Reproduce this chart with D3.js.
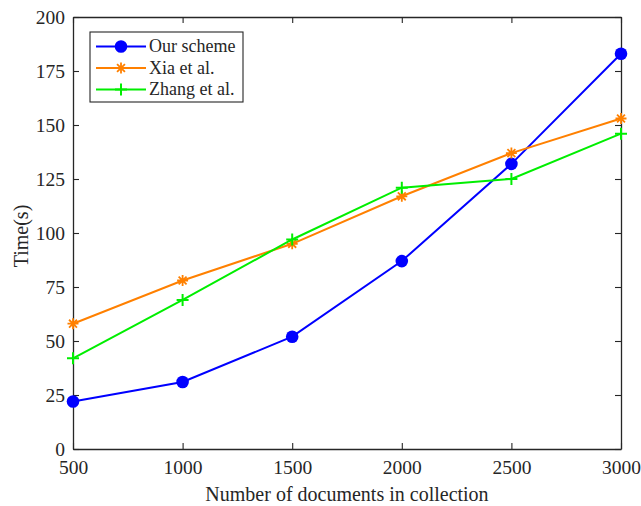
<!DOCTYPE html>
<html>
<head>
<meta charset="utf-8">
<script src="https://cdn.jsdelivr.net/npm/d3@7"></script>
<style>
  html, body { margin: 0; padding: 0; background: #fff; }
  svg { display: block; }
  text { font-family: "Liberation Serif", "Times New Roman", serif; fill: #262626; }
</style>
</head>
<body>
<svg id="chart" width="641" height="506"></svg>
<script>
// Document counts on the x axis
const docCounts = [500, 1000, 1500, 2000, 2500, 3000];
// Running time (s) for each scheme
const ourScheme = [22, 31, 52, 87, 132, 183];
const xiaEtAl   = [58, 78, 95, 117, 137, 153];
const zhangEtAl = [42, 69, 97, 121, 125, 146];
const seriesNames = ["Our scheme", "Xia et al.", "Zhang et al."];
const xTicks = [500, 1000, 1500, 2000, 2500, 3000];
const yTicks = [0, 25, 50, 75, 100, 125, 150, 175, 200];

const series = [
  { name: seriesNames[0], values: ourScheme, color: "#0000ff", marker: "circle" },
  { name: seriesNames[1], values: xiaEtAl,   color: "#ff8000", marker: "asterisk" },
  { name: seriesNames[2], values: zhangEtAl, color: "#00ee00", marker: "plus" }
];

const svg = d3.select("#chart");
const m = { left: 73, right: 20, top: 17, bottom: 57 };
const W = 641, H = 506;
const x = d3.scaleLinear().domain([500, 3000]).range([m.left, W - m.right]);
const y = d3.scaleLinear().domain([0, 200]).range([H - m.bottom, m.top]);
const axisColor = "#262626";
const tickLen = 6;
const fmt = d3.format("d");

// Axes with inward ticks, plus mirrored ticks on top and right
const axBottom = svg.append("g").attr("transform", `translate(0,${y(0)})`)
  .call(d3.axisBottom(x).tickValues(xTicks).tickFormat(fmt).tickSizeInner(-tickLen).tickSizeOuter(0).tickPadding(11.5));
const axLeft = svg.append("g").attr("transform", `translate(${x(500)},0)`)
  .call(d3.axisLeft(y).tickValues(yTicks).tickFormat(fmt).tickSizeInner(-tickLen).tickSizeOuter(0).tickPadding(8));
const axTop = svg.append("g").attr("transform", `translate(0,${y(200)})`)
  .call(d3.axisTop(x).tickValues(xTicks).tickSizeInner(-tickLen).tickSizeOuter(0).tickFormat(""));
const axRight = svg.append("g").attr("transform", `translate(${x(3000)},0)`)
  .call(d3.axisRight(y).tickValues(yTicks).tickSizeInner(-tickLen).tickSizeOuter(0).tickFormat(""));

[axBottom, axLeft, axTop, axRight].forEach(g => {
  g.select(".domain").attr("stroke", axisColor).attr("stroke-width", 1.3);
  g.selectAll(".tick line").attr("stroke", axisColor).attr("stroke-width", 1.1);
  g.selectAll(".tick text").style("font-family", "'Liberation Serif', serif")
    .attr("font-size", 19.5).attr("fill", axisColor);
});

// Axis titles
svg.append("text")
  .attr("x", (x(500) + x(3000)) / 2).attr("y", 500.5)
  .attr("text-anchor", "middle").attr("font-size", 20)
  .text("Number of documents in collection");
svg.append("text")
  .attr("transform", `translate(27.5,236) rotate(-90)`)
  .attr("text-anchor", "middle").attr("font-size", 20)
  .text("Time(s)");

// Marker drawing
function drawMarker(g, type, cx, cy, color) {
  if (type === "circle") {
    g.append("circle").attr("cx", cx).attr("cy", cy).attr("r", 6.3).attr("fill", color);
  } else if (type === "plus") {
    const s = 6;
    g.append("path").attr("d", `M${cx - s},${cy}H${cx + s}M${cx},${cy - s}V${cy + s}`)
      .attr("stroke", color).attr("stroke-width", 2).attr("fill", "none");
  } else {
    const s = 5.5, d = s * 0.72;
    g.append("path")
      .attr("d", `M${cx - s},${cy}H${cx + s}M${cx},${cy - s}V${cy + s}M${cx - d},${cy - d}L${cx + d},${cy + d}M${cx - d},${cy + d}L${cx + d},${cy - d}`)
      .attr("stroke", color).attr("stroke-width", 1.8).attr("fill", "none");
  }
}

const line = d3.line().x(d => x(d[0])).y(d => y(d[1]));
const plot = svg.append("g");
series.forEach(s => {
  const pts = docCounts.map((c, i) => [c, s.values[i]]);
  plot.append("path").datum(pts).attr("d", line)
    .attr("fill", "none").attr("stroke", s.color).attr("stroke-width", 2);
  const mg = plot.append("g");
  pts.forEach(p => drawMarker(mg, s.marker, x(p[0]), y(p[1]), s.color));
});

// Legend
const lg = svg.append("g").attr("transform", "translate(90,32)");
lg.append("rect").attr("width", 153).attr("height", 70)
  .attr("fill", "#fff").attr("stroke", axisColor).attr("stroke-width", 1.1);
series.forEach((s, i) => {
  const cy = 14.5 + i * 21.5;
  lg.append("line").attr("x1", 6).attr("x2", 56).attr("y1", cy).attr("y2", cy)
    .attr("stroke", s.color).attr("stroke-width", 2);
  drawMarker(lg, s.marker, 31, cy, s.color);
  lg.append("text").attr("x", 59).attr("y", cy + 5.5).attr("font-size", 18).text(s.name);
});
</script>
</body>
</html>
